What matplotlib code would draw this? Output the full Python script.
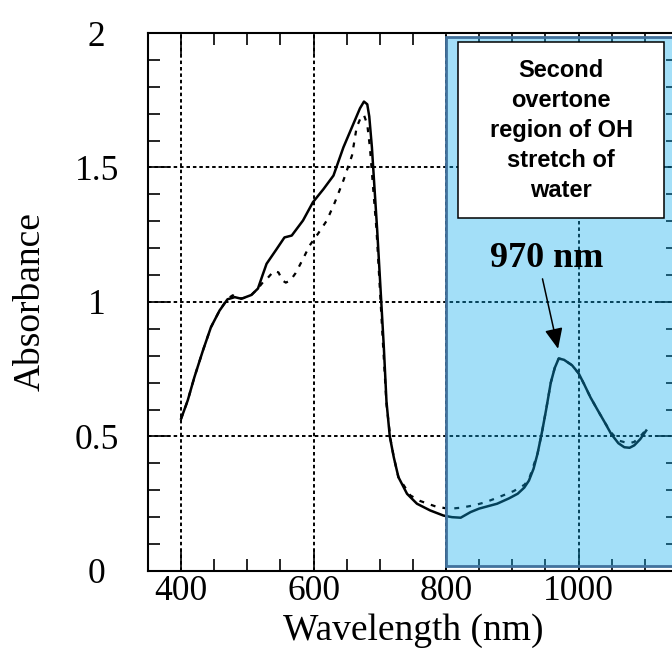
import numpy as np
import matplotlib
matplotlib.use('Agg')
import matplotlib.pyplot as plt
from matplotlib.patches import Rectangle
from matplotlib.ticker import MultipleLocator

# absorbance spectra (nm, absorbance)
wl_solid = [400, 410, 420, 433, 445, 458, 470, 481, 491, 506, 516, 523, 529, 544, 556,
            567, 584, 599, 615, 630, 645, 660, 670, 676, 681, 684, 688, 692, 696, 701,
            706, 710, 715, 721, 728, 741, 756, 776, 796, 809, 822, 837, 850, 877, 895,
            908, 918, 925, 932, 938, 945, 951, 958, 964, 970, 978, 990, 1000, 1008, 1018,
            1029, 1040, 1049, 1060, 1069, 1077, 1084, 1093, 1102]
abs_solid = [0.566, 0.634, 0.72, 0.82, 0.906, 0.968, 1.010, 1.018, 1.012, 1.026, 1.050, 1.10,
             1.142, 1.196, 1.240, 1.247, 1.303, 1.371, 1.42, 1.47, 1.575, 1.662, 1.72, 1.745,
             1.735, 1.69, 1.575, 1.42, 1.266, 1.05, 0.832, 0.63, 0.50, 0.423, 0.349, 0.287,
             0.250, 0.225, 0.206, 0.200, 0.198, 0.219, 0.232, 0.250, 0.27, 0.287, 0.31, 0.336,
             0.38, 0.436, 0.52, 0.60, 0.70, 0.755, 0.79, 0.785, 0.765, 0.735, 0.696, 0.645,
             0.597, 0.55, 0.51, 0.475, 0.46, 0.458, 0.467, 0.49, 0.522]

wl_dash = [400, 410, 420, 433, 445, 458, 470, 478, 486, 495, 506, 516, 524, 531, 540, 547,
           553, 558, 565, 573, 584, 594, 607, 620, 632, 645, 658, 665, 672, 676, 681, 685,
           690, 695, 700, 705, 710, 716, 721, 728, 746, 761, 784, 804, 822, 842, 860, 880,
           902, 918, 925, 938, 945, 951, 958, 964, 970, 978, 990, 1000, 1008, 1018, 1029,
           1040, 1049, 1060, 1069, 1077, 1084, 1093, 1100]
abs_dash = [0.566, 0.634, 0.72, 0.82, 0.906, 0.968, 1.012, 1.025, 1.012, 1.015, 1.026, 1.050,
            1.075, 1.09, 1.115, 1.11, 1.08, 1.072, 1.08, 1.108, 1.16, 1.21, 1.255, 1.303, 1.37,
            1.452, 1.545, 1.65, 1.69, 1.695, 1.66, 1.575, 1.42, 1.266, 1.05, 0.832, 0.62, 0.491,
            0.423, 0.349, 0.281, 0.260, 0.240, 0.231, 0.235, 0.244, 0.256, 0.275, 0.297, 0.32,
            0.34, 0.436, 0.52, 0.60, 0.70, 0.755, 0.79, 0.785, 0.765, 0.735, 0.696, 0.645,
            0.597, 0.55, 0.515, 0.485, 0.479, 0.475, 0.48, 0.50, 0.52]

peak_nm = 970
peak_label = '970 nm'
region_label = 'Second\novertone\nregion of OH\nstretch of\nwater'

serif = 'Liberation Serif'

fig = plt.figure(figsize=(6.72, 6.64), dpi=100)
ax = fig.add_axes([0.2202, 0.1401, 0.7887, 0.8102])

ax.plot(wl_solid, abs_solid, color='black', lw=1.8, zorder=2)
ax.plot(wl_dash, abs_dash, color='black', lw=1.6, linestyle=(0, (2.2, 3.2)), zorder=2)

ax.set_xlim(350, 1150)
ax.set_ylim(0, 2)
ax.xaxis.set_major_locator(MultipleLocator(200))
ax.xaxis.set_minor_locator(MultipleLocator(50))
ax.yaxis.set_major_locator(MultipleLocator(0.5))
ax.yaxis.set_minor_locator(MultipleLocator(0.1))
ax.set_xticks([400, 600, 800, 1000])
ax.set_xticklabels(['400', '600', '800', '1000'], fontfamily=serif, fontsize=25.5)
ax.set_yticks([0, 0.5, 1, 1.5, 2])
ax.set_yticklabels(['0', '0.5', '1', '1.5', '2'], fontfamily=serif, fontsize=25.5)
for lab in ax.get_yticklabels():
    lab.set_ha('center')

ax.tick_params(which='both', direction='in', top=True, right=True, width=1.2, color='black')
ax.tick_params(which='major', length=16)
ax.tick_params(which='minor', length=8.6)
ax.tick_params(axis='y', which='major', pad=37)
ax.tick_params(axis='x', which='major', pad=3)
for sp in ax.spines.values():
    sp.set_linewidth(1.5)

ax.grid(True, which='major', color='black', lw=1.4, linestyle=(0, (1.8, 1.5)))

ax.set_xlabel('Wavelength (nm)', fontfamily=serif, fontsize=27)
ax.set_ylabel('Absorbance', fontfamily=serif, fontsize=27)
ax.xaxis.set_label_coords(0.5, -0.078)
ax.yaxis.set_label_coords(-0.2226, 0.5)
ax.yaxis.label.set_va('center')

# shaded OH overtone region
ax.add_patch(Rectangle((800, 0.02), 400, 1.965, facecolor=(0.05, 0.68, 0.93, 0.38),
                       edgecolor='#41719c', lw=2, zorder=3, clip_on=True))

# label box
ax.add_patch(Rectangle((818.6, 1.314), 310.4, 0.651, facecolor='white',
                       edgecolor='black', lw=1.1, zorder=4))
ax.text(973.9, 1.639, region_label, ha='center', va='center', fontfamily='Liberation Sans',
        fontweight='bold', fontsize=17, linespacing=1.39, zorder=5)

ax.text(952, 1.162, peak_label, ha='center', va='center', fontfamily=serif,
        fontweight='bold', fontsize=26, zorder=5)
ax.annotate('', xy=(peak_nm - 1, 0.826), xytext=(945.5, 1.086),
            arrowprops=dict(arrowstyle='-|>,head_length=0.5,head_width=0.22', color='black',
                            lw=1.1, mutation_scale=25, shrinkA=0, shrinkB=0), zorder=5)

fig.savefig('out.png', dpi=100)
